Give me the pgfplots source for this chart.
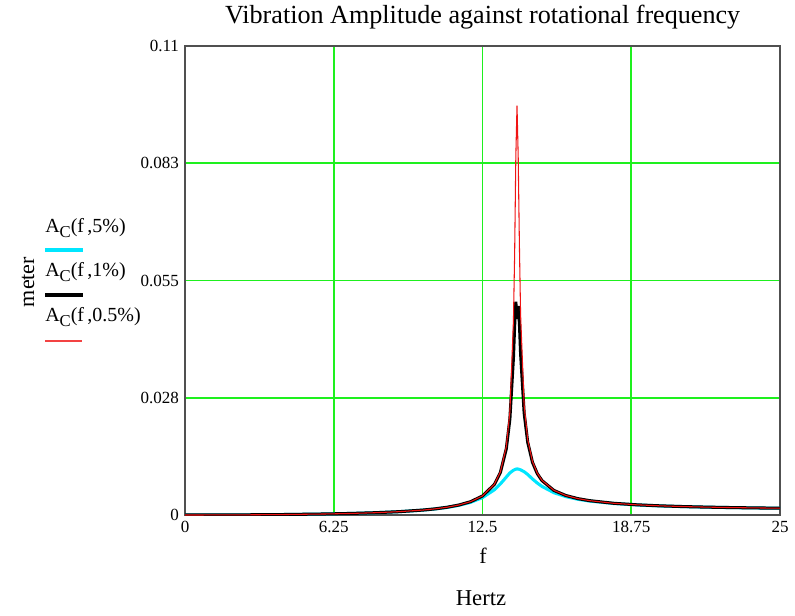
\documentclass[border=0pt]{standalone}
\usepackage{fontspec}
\setmainfont{Liberation Serif}
\usepackage{pgfplots}
\pgfplotsset{compat=1.18}
\definecolor{gridgreen}{RGB}{30,240,30}
\definecolor{mcyan}{RGB}{0,230,255}
\definecolor{mred}{RGB}{240,20,20}
\definecolor{framegray}{RGB}{80,80,80}
\newcommand{\AC}[1]{A\lower0.45ex\hbox{\fontsize{12.5}{13}\selectfont C}(f\,,#1)}
\begin{document}
\begin{tikzpicture}
\path[use as bounding box] (0,0) rectangle (596.25pt,461.25pt);
\begin{axis}[
  at={(138.75pt,75pt)}, anchor=south west,
  width=446.25pt, height=351.75pt, scale only axis,
  xmin=0, xmax=25, ymin=0, ymax=0.11,
  xtick={0,6.25,12.5,18.75,25},
  xticklabels={0,6.25,12.5,18.75,25},
  ytick={0,0.0275,0.055,0.0825,0.11},
  yticklabels={0,0.028,0.055,0.083,0.11},
  major tick length=0pt,
  xmajorgrids, ymajorgrids,
  grid style={color=gridgreen, line width=1.3pt, opacity=1},
  major grid style={color=gridgreen, line width=1.3pt, opacity=1},
  axis line style={draw=framegray, line width=1.6pt},
  tick label style={font=\fontsize{12.75}{14}\selectfont},
  xticklabel style={yshift=-1pt},
  yticklabel style={xshift=-1pt},
  clip=true,
]
\addplot[mcyan, line width=2.3pt] coordinates {
(0,0) (2,0.000023) (4,0.000098) (6,0.000249) (7,0.000368) (8,0.000537)
(9,0.000780) (10,0.001150) (10.5,0.001416) (11,0.001771) (11.5,0.002260)
(12,0.002972) (12.5,0.004079) (13,0.005924) (13.25,0.007279) (13.5,0.008900)
(13.65,0.009873) (13.8,0.010500) (13.9,0.010750) (13.95,0.010800) (14.0,0.010780)
(14.1,0.010600) (14.25,0.010150) (14.4,0.009500) (14.6,0.008450) (14.8,0.007500)
(15,0.006700) (15.5,0.005232) (16,0.004310) (16.5,0.003698) (17,0.003266)
(18,0.002704) (19,0.002357) (20,0.002123) (21,0.001955) (22,0.001829)
(23,0.001732) (24,0.001655) (25,0.001592)
};
\addplot[black, line width=2.3pt] coordinates {
(0,0) (2,0.000023) (4,0.000099) (6,0.000250) (7,0.000370) (8,0.000539)
(9,0.000783) (10,0.001161) (10.5,0.001434) (11,0.001807) (11.5,0.002330)
(12,0.003124) (12.5,0.004462) (13,0.007187) (13.25,0.009961) (13.5,0.015519)
(13.65,0.022510) (13.8,0.036935) (13.85,0.044340) (13.9,0.050000) (13.95,0.046000)
(14.0,0.049000) (14.05,0.045070) (14.1,0.037950) (14.25,0.023898) (14.4,0.017050)
(14.6,0.012340) (14.8,0.009721) (15,0.008065) (15.5,0.005763) (16,0.004574)
(16.5,0.003850) (17,0.003363) (18,0.002752) (19,0.002385) (20,0.002141)
(21,0.001968) (22,0.001839) (23,0.001740) (24,0.001660) (25,0.001597)
};
\addplot[mred, line width=0.8pt] coordinates {
(0,0) (2,0.000023) (4,0.000099) (6,0.000250) (7,0.000370) (8,0.000539)
(9,0.000784) (10,0.001163) (10.5,0.001437) (11,0.001809) (11.5,0.002333)
(12,0.003131) (12.5,0.004476) (13,0.007240) (13.25,0.010100) (13.5,0.016038)
(13.65,0.024151) (13.8,0.045650) (13.85,0.061000) (13.9,0.084000) (13.95,0.096000)
(14.0,0.084000) (14.05,0.063500) (14.1,0.047070) (14.25,0.025703) (14.4,0.017657)
(14.6,0.012558) (14.8,0.009824) (15,0.008122) (15.5,0.005783) (16,0.004583)
(16.5,0.003855) (17,0.003367) (18,0.002754) (19,0.002386) (20,0.002142)
(21,0.001969) (22,0.001840) (23,0.001740) (24,0.001661) (25,0.001597)
};
\end{axis}
% title and axis labels
\node[font=\fontsize{19.6}{22}\selectfont] at (362pt,448.5pt) {Vibration Amplitude against rotational frequency};
\node[font=\fontsize{16.5}{18}\selectfont, rotate=90] at (21pt,249.75pt) {meter};
\node[font=\fontsize{16.5}{18}\selectfont] at (362.25pt,44.25pt) {f};
\node[font=\fontsize{17}{19}\selectfont] at (360.75pt,12.75pt) {Hertz};
% legend
\node[font=\fontsize{15}{17}\selectfont, anchor=west, inner sep=0pt] at (33.75pt,290.25pt) {\AC{5\%}};
\draw[mcyan, line width=2.3pt] (33.75pt,273.75pt) -- (62.25pt,273.75pt);
\node[font=\fontsize{15}{17}\selectfont, anchor=west, inner sep=0pt] at (33.75pt,257.25pt) {\AC{1\%}};
\draw[black, line width=2.3pt] (33.75pt,240pt) -- (62.25pt,240pt);
\node[font=\fontsize{15}{17}\selectfont, anchor=west, inner sep=0pt] at (33.75pt,223.5pt) {\AC{0.5\%}};
\draw[mred!80!white, line width=1.5pt] (33.75pt,205.5pt) -- (61.5pt,205.5pt);
\end{tikzpicture}
\end{document}
